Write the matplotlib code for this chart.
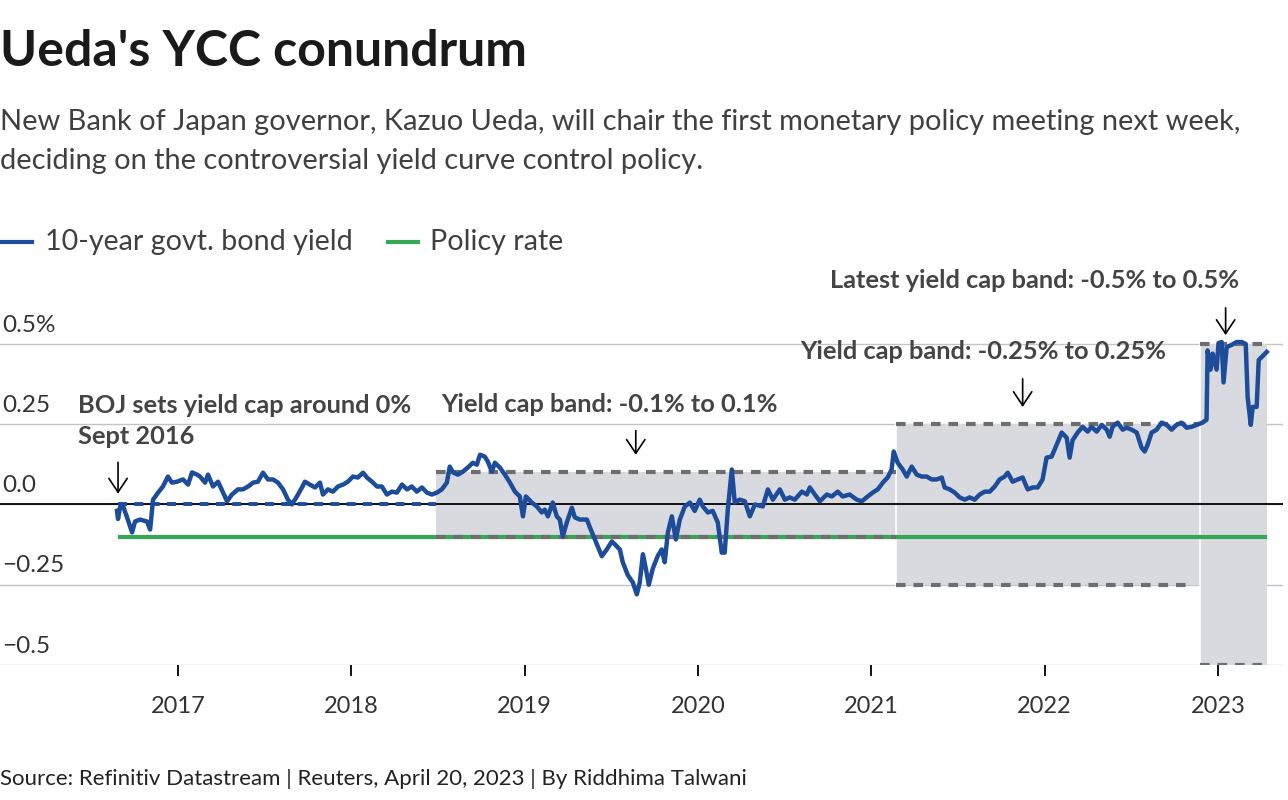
import matplotlib.pyplot as plt

# 10-year JGB yield (%), decimal-year dates
dates = [2016.648, 2016.654, 2016.665, 2016.683, 2016.706, 2016.735, 2016.752, 2016.781, 2016.821, 2016.839,
         2016.856, 2016.885, 2016.913, 2016.942, 2016.965, 2016.994, 2017.029, 2017.058, 2017.081, 2017.110,
         2017.127, 2017.156, 2017.173, 2017.202, 2017.231, 2017.260, 2017.283, 2017.311, 2017.346, 2017.375,
         2017.404, 2017.433, 2017.461, 2017.490, 2017.519, 2017.548, 2017.577, 2017.606, 2017.634, 2017.657,
         2017.686, 2017.715, 2017.732, 2017.761, 2017.790, 2017.819, 2017.836, 2017.865, 2017.894, 2017.923,
         2017.952, 2017.980, 2018.009, 2018.038, 2018.067, 2018.090, 2018.119, 2018.148, 2018.176, 2018.205,
         2018.234, 2018.263, 2018.292, 2018.321, 2018.349, 2018.378, 2018.407, 2018.436, 2018.465, 2018.494,
         2018.522, 2018.551, 2018.568, 2018.586, 2018.615, 2018.643, 2018.672, 2018.701, 2018.724, 2018.742,
         2018.770, 2018.788, 2018.811, 2018.828, 2018.857, 2018.886, 2018.915, 2018.944, 2018.972, 2018.990,
         2019.007, 2019.041, 2019.070, 2019.099, 2019.116, 2019.134, 2019.162, 2019.185, 2019.203, 2019.220,
         2019.243, 2019.272, 2019.289, 2019.318, 2019.359, 2019.376, 2019.405, 2019.445, 2019.474, 2019.503,
         2019.520, 2019.549, 2019.566, 2019.595, 2019.624, 2019.647, 2019.664, 2019.682, 2019.699, 2019.716,
         2019.739, 2019.768, 2019.791, 2019.808, 2019.826, 2019.849, 2019.872, 2019.895, 2019.924, 2019.953,
         2019.981, 2020.010, 2020.028, 2020.057, 2020.085, 2020.114, 2020.137, 2020.154, 2020.172, 2020.195,
         2020.212, 2020.241, 2020.270, 2020.299, 2020.328, 2020.374, 2020.403, 2020.432, 2020.472, 2020.501,
         2020.529, 2020.558, 2020.599, 2020.628, 2020.645, 2020.674, 2020.703, 2020.743, 2020.772, 2020.806,
         2020.835, 2020.875, 2020.916, 2020.945, 2020.979, 2021.008, 2021.037, 2021.066, 2021.094, 2021.117,
         2021.129, 2021.152, 2021.181, 2021.204, 2021.233, 2021.262, 2021.290, 2021.319, 2021.348, 2021.377,
         2021.406, 2021.423, 2021.452, 2021.481, 2021.510, 2021.539, 2021.567, 2021.596, 2021.625, 2021.654,
         2021.683, 2021.712, 2021.740, 2021.769, 2021.787, 2021.815, 2021.844, 2021.873, 2021.902, 2021.931,
         2021.960, 2021.988, 2022.011, 2022.040, 2022.069, 2022.098, 2022.127, 2022.144, 2022.161, 2022.190,
         2022.219, 2022.248, 2022.271, 2022.300, 2022.329, 2022.358, 2022.375, 2022.392, 2022.421, 2022.450,
         2022.473, 2022.502, 2022.531, 2022.559, 2022.577, 2022.594, 2022.617, 2022.646, 2022.675, 2022.704,
         2022.732, 2022.761, 2022.790, 2022.819, 2022.848, 2022.877, 2022.911, 2022.934, 2022.940, 2022.957,
         2022.969, 2022.992, 2023.003, 2023.021, 2023.032, 2023.050, 2023.078, 2023.107, 2023.137, 2023.160,
         2023.171, 2023.189, 2023.200, 2023.223, 2023.235, 2023.264, 2023.281]
yields = [-0.02, -0.045, -0.010, -0.005, -0.040, -0.087, -0.053, -0.047, -0.053, -0.078,
          0.015, 0.037, 0.056, 0.087, 0.068, 0.071, 0.078, 0.062, 0.100, 0.093,
          0.087, 0.068, 0.093, 0.056, 0.071, 0.037, 0.010, 0.031, 0.047, 0.047,
          0.056, 0.068, 0.071, 0.099, 0.078, 0.078, 0.068, 0.047, 0.015, 0.000,
          0.025, 0.053, 0.071, 0.062, 0.053, 0.068, 0.031, 0.047, 0.040, 0.056,
          0.062, 0.071, 0.087, 0.084, 0.099, 0.084, 0.071, 0.056, 0.056, 0.031,
          0.040, 0.037, 0.062, 0.047, 0.056, 0.040, 0.053, 0.037, 0.031, 0.037,
          0.047, 0.068, 0.118, 0.100, 0.093, 0.102, 0.115, 0.130, 0.124, 0.155,
          0.149, 0.133, 0.102, 0.130, 0.115, 0.093, 0.068, 0.040, 0.025, -0.037,
          0.025, 0.006, -0.006, -0.025, -0.016, -0.037, 0.006, -0.037, -0.047, -0.100,
          -0.056, -0.010, -0.040, -0.047, -0.047, -0.071, -0.109, -0.161, -0.140, -0.115,
          -0.124, -0.140, -0.180, -0.220, -0.243, -0.280, -0.243, -0.155, -0.200, -0.250,
          -0.200, -0.160, -0.140, -0.180, -0.087, -0.037, -0.109, -0.047, -0.006, 0.006,
          -0.020, 0.015, -0.006, -0.025, -0.020, -0.056, -0.150, -0.150, -0.015, 0.109,
          0.006, 0.015, 0.010, -0.037, 0.000, -0.006, 0.047, 0.015, 0.047, 0.015,
          0.022, 0.015, 0.040, 0.031, 0.053, 0.031, 0.010, 0.031, 0.025, 0.040,
          0.025, 0.031, 0.015, 0.010, 0.025, 0.037, 0.047, 0.068, 0.084, 0.109,
          0.165, 0.130, 0.109, 0.087, 0.118, 0.093, 0.087, 0.087, 0.078, 0.078,
          0.084, 0.053, 0.047, 0.037, 0.022, 0.015, 0.022, 0.015, 0.031, 0.040,
          0.040, 0.056, 0.078, 0.087, 0.099, 0.071, 0.078, 0.084, 0.047, 0.053,
          0.053, 0.078, 0.146, 0.149, 0.186, 0.224, 0.208, 0.146, 0.200, 0.224,
          0.242, 0.227, 0.242, 0.227, 0.248, 0.233, 0.211, 0.242, 0.255, 0.233,
          0.239, 0.233, 0.224, 0.177, 0.165, 0.186, 0.224, 0.233, 0.255, 0.248,
          0.233, 0.248, 0.255, 0.239, 0.242, 0.248, 0.255, 0.264, 0.480, 0.420,
          0.470, 0.420, 0.503, 0.506, 0.380, 0.490, 0.497, 0.506, 0.506, 0.500,
          0.335, 0.248, 0.304, 0.304, 0.450, 0.466, 0.475]

# BOJ policy rate
policy_dates = [2016.654, 2023.281]
policy_rate = [-0.1, -0.1]

# yield cap bands: start, end, low, high
band_start = [2016.654, 2018.488, 2021.141, 2022.894]
band_end = [2018.488, 2021.141, 2022.894, 2023.281]
band_low = [0.0, -0.1, -0.25, -0.5]
band_high = [0.0, 0.1, 0.25, 0.5]

years = [2017, 2018, 2019, 2020, 2021, 2022, 2023]
yticks = [0.5, 0.25, 0.0, -0.25, -0.5]
ylabels = ['0.5%', '0.25', '0.0', '\u22120.25', '\u22120.5']

blue = '#1d4c9a'
green = '#35a853'
grey_band = '#d9dadf'
dash_grey = '#6e6e6e'

plt.rcParams['font.family'] = ['Lato', 'DejaVu Sans']

fig = plt.figure(figsize=(12.88, 8), dpi=100)
ax = fig.add_axes([0, 0.16875, 1283 / 1288, 0.41735])
ax.set_xlim(2015.973, 2023.375)
ax.set_ylim(-0.5, 0.54)

for y in yticks:
    ax.axhline(y, color='#c4c4c4', lw=1, zorder=0)
for y, lab in zip(yticks, ylabels):
    ax.text(0.0015, y + 0.026, lab, transform=ax.get_yaxis_transform(), fontsize=17.5,
            color='#333333', va='bottom', ha='left')

# bands
for x0, x1, lo, hi in zip(band_start, band_end, band_low, band_high):
    if hi > lo:
        ax.fill_between([x0, x1], lo, hi, color=grey_band, lw=0, zorder=1)

ax.axhline(0, color='black', lw=1.3, zorder=2)
ax.plot(policy_dates, policy_rate, color=green, lw=3, zorder=3, solid_capstyle='butt')

dash = (2.3, 1.9)
for i, (x0, x1, lo, hi) in enumerate(zip(band_start, band_end, band_low, band_high)):
    if i == 0:
        ax.plot([x0, x1], [0, 0], color=blue, lw=2.8, dashes=dash, zorder=4)
        continue
    ax.plot([x0, x1], [hi, hi], color=dash_grey, lw=3, dashes=dash, zorder=4)
    x1b = x1 - 0.04 if i == 2 else x1
    ax.plot([x0, x1b], [lo, lo], color=dash_grey, lw=3, dashes=dash, zorder=4)

# white seams between adjacent bands
for xb, lo, hi in [(2021.141, -0.25, 0.25), (2022.894, -0.5, 0.5)]:
    ax.plot([xb, xb], [lo, hi], color='white', lw=1.2, zorder=1.5)

ax.plot(dates, yields, color=blue, lw=3.2, zorder=5, solid_joinstyle='round')

ax.set_xticks(years)
ax.set_xticklabels([str(y) for y in years], fontsize=17, color='#333333')
ax.tick_params(axis='x', length=8, width=1.3, color='black', pad=14)
ax.set_yticks([])
for s in ax.spines.values():
    s.set_visible(False)

# annotations
note_kw = dict(fontsize=18.3, fontweight='bold', color='#444444', va='center', ha='left')
arrow_kw = dict(arrowstyle='->,head_length=0.45,head_width=0.3', color='black', lw=1.2, mutation_scale=22)
ax.annotate('', xy=(2016.654, 0.025), xytext=(2016.654, 0.14), arrowprops=arrow_kw, annotation_clip=False)
ax.annotate('', xy=(2019.641, 0.146), xytext=(2019.641, 0.239), arrowprops=arrow_kw, annotation_clip=False)
ax.annotate('', xy=(2021.873, 0.295), xytext=(2021.873, 0.40), arrowprops=arrow_kw, annotation_clip=False)
ax.annotate('', xy=(2023.044, 0.519), xytext=(2023.044, 0.621), arrowprops=arrow_kw, annotation_clip=False)

def fy(py):
    return 1 - py / 800

fig.text(78 / 1288, fy(406), 'BOJ sets yield cap around 0%', **note_kw)
fig.text(78 / 1288, fy(436), 'Sept 2016', **note_kw)
fig.text(441 / 1288, fy(404), 'Yield cap band: -0.1% to 0.1%', **note_kw)
fig.text(800 / 1288, fy(352), 'Yield cap band: -0.25% to 0.25%', **note_kw)
fig.text(830 / 1288, fy(280), 'Latest yield cap band: -0.5% to 0.5%', **note_kw)

# header
fig.text(0, fy(51), "Ueda's YCC conundrum", fontsize=36, fontweight='bold', color='#1a1a1a', va='center')
fig.text(0, fy(122), 'New Bank of Japan governor, Kazuo Ueda, will chair the first monetary policy meeting next week,',
         fontsize=20.9, color='#404040', va='center')
fig.text(0, fy(161), 'deciding on the controversial yield curve control policy.',
         fontsize=20.9, color='#404040', va='center')

# legend
fig.add_artist(plt.Line2D([0, 32 / 1288], [fy(242), fy(242)], color=blue, lw=3, transform=fig.transFigure))
fig.text(45 / 1288, fy(242), '10-year govt. bond yield', fontsize=20.6, color='#404040', va='center')
fig.add_artist(plt.Line2D([388 / 1288, 418 / 1288], [fy(242), fy(242)], color=green, lw=3, transform=fig.transFigure))
fig.text(430 / 1288, fy(242), 'Policy rate', fontsize=20.6, color='#404040', va='center')

fig.text(0, fy(779), 'Source: Refinitiv Datastream | Reuters, April 20, 2023 | By Riddhima Talwani',
         fontsize=16, color='#222222', va='center')

fig.savefig('out.png', dpi=100)
